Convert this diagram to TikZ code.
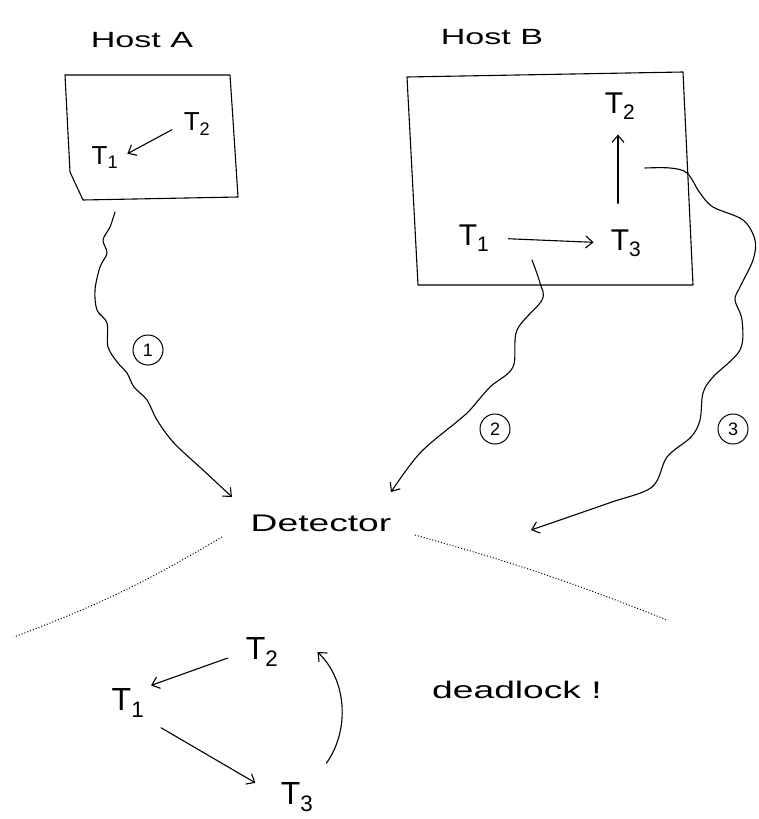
\documentclass[tikz,border=0pt]{standalone}
\usepackage{fontspec}
\usepackage{graphicx}
\setmainfont{Liberation Sans}
\usetikzlibrary{arrows.meta}
\newcommand{\wtext}[1]{\scalebox{1.55}[1]{#1}}
\newcommand{\Tn}[1]{T\textsubscript{#1}}
\begin{document}
\begin{tikzpicture}[x=1pt,y=-1pt,
  ink/.style={line width=1.1pt,line join=round,line cap=round},
  conn/.style={ink,-{Straight Barb[length=7pt,width=12pt]}},
  lbl/.style={inner sep=0pt,font=\fontsize{22}{24}\selectfont},
  tlbl/.style={inner sep=1pt,font=\fontsize{30}{32}\selectfont},
  circ/.style={draw,circle,line width=1pt,minimum size=30pt,inner sep=0pt,font=\fontsize{18}{18}\selectfont}]
\useasboundingbox (0,0) rectangle (758,819);

% Host A
\node[lbl] (hostA) at (142,40) {\wtext{Host A}};
\draw[ink] (65,75) -- (230,75) -- (233,120) -- (238,197) -- (83,200) -- (70,172) -- cycle;
\node[tlbl,font=\fontsize{26}{28}\selectfont] (aT1) at (105,158) {\Tn{1}};
\node[tlbl,font=\fontsize{26}{28}\selectfont] (aT2) at (197,124) {\Tn{2}};
\draw[conn,shorten <=12pt,shorten >=9pt] (aT2.west) -- (aT1.east);
\coordinate (aOut) at (115,212);

% Host B
\node[lbl] (hostB) at (492,37) {\wtext{Host B}};
\draw[ink] (407,77) -- (683,72) -- (693,285) -- (418,285) -- cycle;
\node[tlbl] (bT1) at (474,238) {\Tn{1}};
\node[tlbl] (bT3) at (626,243) {\Tn{3}};
\node[tlbl] (bT2) at (620,106) {\Tn{2}};
\draw[conn,shorten <=18pt,shorten >=16pt] (bT1.east) -- (bT3.west);
\draw[conn,shorten <=25pt,shorten >=14pt] (bT3.north) ++(-8,0) coordinate (b3n) -- (bT2.south -| b3n);
\coordinate (bOut2) at (532,260);
\coordinate (bOut3) at (645,168);

% Detector
\node[lbl,font=\fontsize{24}{26}\selectfont] (det) at (321,523) {\wtext{Detector}};
\coordinate (d1) at (232,497);
\coordinate (d2) at (391,492);
\coordinate (d3) at (531,530);

% connectors
\draw[conn] plot[smooth,tension=0.55] coordinates {(aOut) (110,227) (103,240) (107,253) (100,267) (95,290) (97,310) (107,323) (108,347) (118,363) (127,373) (134,387) (147,400) (157,420) (174,443) (203,470) (d1)};
\node[circ] (c1) at (148,350) {1};

\draw[conn] plot[smooth,tension=0.55] coordinates {(bOut2) (540,283) (542,300) (517,330) (513,367) (490,387) (470,410) (459,420) (420,453) (d2)};
\node[circ] (c2) at (495,429) {2};

\draw[conn] plot[smooth,tension=0.55] coordinates {(bOut3) (670,168) (687,173) (700,193) (713,207) (743,220) (755,240) (753,260) (740,287) (735,300) (742,320) (740,350) (713,377) (703,393) (700,420) (691,437) (667,457) (652,487) (609,503) (d3)};
\node[circ] (c3) at (733,429) {3};

% dotted separators
\coordinate (s1a) at (222,537);
\coordinate (s1b) at (14,637);
\coordinate (s2a) at (415,535);
\coordinate (s2b) at (667,620);
\draw[line width=1pt,dotted] (s1a) to[bend left=5] (s1b);
\draw[line width=1pt,dotted] (s2a) to[bend left=3] (s2b);

% wait-for graph
\node[tlbl,font=\fontsize{32}{34}\selectfont] (gT2) at (262,652) {\Tn{2}};
\node[tlbl,font=\fontsize{32}{34}\selectfont] (gT1) at (128,703) {\Tn{1}};
\node[tlbl,font=\fontsize{32}{34}\selectfont] (gT3) at (297,797) {\Tn{3}};
\draw[conn,shorten <=18pt,shorten >=6pt] (gT2.west) -- (gT1.north east);
\draw[conn,shorten <=18pt,shorten >=28pt] (gT1.south east) -- (gT3.west);
\draw[conn] ([xshift=12pt,yshift=18pt]gT3.north east) .. controls (350,730) and (347,680) .. ([xshift=38pt]gT2.east);

\node[lbl,font=\fontsize{24}{26}\selectfont] (dl) at (517,690) {\wtext{deadlock !}};
\end{tikzpicture}
\end{document}
